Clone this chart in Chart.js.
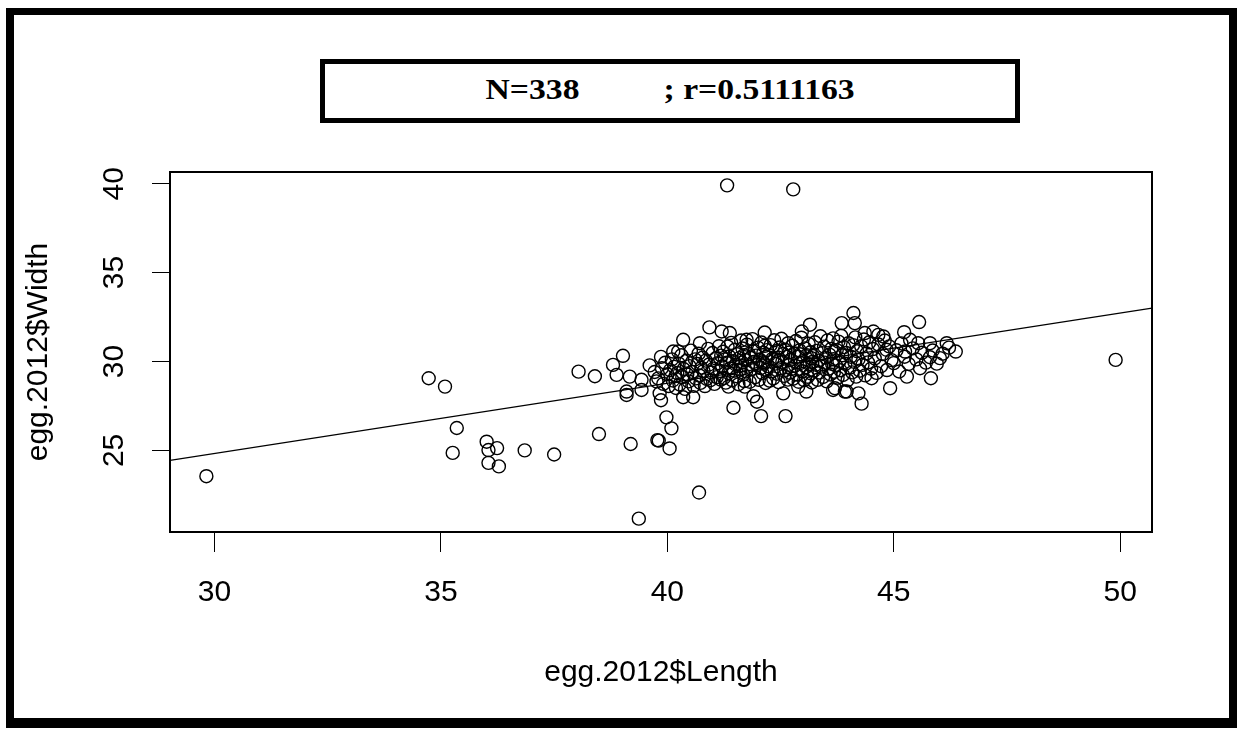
<!DOCTYPE html>
<html lang="en">
<head>
<meta charset="UTF-8">
<title>egg.2012 Length vs Width</title>
<script src="https://cdn.jsdelivr.net/npm/chart.js"></script>
<style>
  html, body { margin: 0; padding: 0; background: #fff; }
  #wrap { position: relative; width: 1239px; height: 729px; overflow: hidden; }
  #eggChart { position: absolute; left: 0; top: 0; }
  #frame {
    position: absolute; left: 6px; top: 8px; width: 1231px; height: 720px;
    box-sizing: border-box; border: 8px solid #000; border-top-width: 7px; border-bottom-width: 10px;
    pointer-events: none;
  }
  #statBox {
    position: absolute; left: 320px; top: 59px; width: 700px; height: 64px;
    box-sizing: border-box; border: 5px solid #000; background: #fff;
    text-align: center; line-height: 60px; overflow: visible;
  }
  #statBox span {
    display: inline-block; white-space: pre; transform: scaleX(1.16);
    font: bold 29px "Liberation Serif", "Times New Roman", serif; color: #000;
  }
</style>
</head>
<body>
<div id="wrap">
  <canvas id="eggChart" width="1239" height="729"></canvas>
  <div id="frame"></div>
  <div id="statBox"><span id="statText"></span></div>
</div>

<script>
// 2012 eggs, [length, width] in mm - the scattered ones away from the main cloud
const outerEggs = [
  [29.82,23.55],
  [34.73,29.06],[35.09,28.59],[35.35,26.26],[35.26,24.86],
  [36.01,25.49],[36.05,25.02],[36.24,25.13],[36.05,24.30],[36.28,24.10],
  [36.85,25.00],[37.50,24.77],
  [38.04,29.43],[38.40,29.17],[39.02,30.32],[38.80,29.81],[38.88,29.25],[39.17,29.15],
  [39.10,28.31],[39.10,28.12],[38.49,25.92],[39.19,25.36],[39.78,25.58],[39.81,25.55],
  [40.05,25.11],[39.98,26.86],[40.09,26.24],
  [40.70,22.63],[39.37,21.16],
  [41.46,27.40],[42.07,26.93],[41.98,27.74],[41.90,28.05],
  [40.93,31.92],[41.20,31.69],[41.38,31.60],[40.35,31.22],[40.72,31.03],[40.24,30.56],
  [39.61,29.78],[39.86,30.26],[39.83,28.21],[39.86,27.82],[40.35,27.99],[40.57,27.99],
  [39.43,28.40],[39.43,28.97],[40.13,30.56],
  [41.75,31.22],[42.15,31.63],[41.32,39.91],[42.78,39.68],
  [42.97,31.69],[43.15,32.07],[43.85,32.16],
  [42.61,26.93],[42.56,28.21],[43.07,28.31],[43.66,28.40],[43.92,28.31],[42.89,28.59],[41.71,28.59],[41.35,28.59],
  [44.11,32.73],[44.14,32.16],[45.56,32.22],[46.37,30.56],[46.02,30.19],[45.80,30.24],[45.80,31.03],
  [45.58,29.62],[45.82,29.06],[45.29,29.15],[44.92,28.50],[44.51,29.06],[44.29,27.63],[44.22,28.21],[43.96,28.31],[43.70,28.50],
  [44.55,31.69],[44.77,31.41],[45.23,31.65],[45.36,31.22],[45.54,31.03],[45.25,30.56],[44.84,30.66],[44.66,31.50],[44.36,31.60],
  [46.17,31.03],[49.90,30.09]
];

// the dense cloud between ~40 and ~46 mm length
const coreEggs = [
  [39.72,29.41],[39.80,29.05],[39.88,29.62],[39.91,28.74],[39.95,29.93],[40.00,29.28],[40.03,28.62],
  [40.06,29.51],[40.10,30.12],[40.12,28.93],[40.15,29.70],[40.18,29.18],[40.19,28.51],[39.76,28.88],
  [40.22,29.35],[40.25,29.88],[40.27,28.71],[40.31,30.35],[40.33,29.12],[40.36,29.58],[40.39,28.46],
  [40.42,30.04],[40.44,29.27],[40.47,28.88],[40.49,29.74],[40.52,30.61],[40.55,29.41],[40.58,28.63],
  [40.61,30.12],[40.63,29.05],[40.66,29.86],[40.69,30.44],
  [40.71,29.21],[40.73,28.80],[40.75,29.65],[40.78,30.22],[40.80,29.46],[40.83,28.62],[40.85,30.05],
  [40.87,29.02],[40.90,30.71],[40.92,29.83],[40.95,28.95],[40.97,29.38],[41.00,30.48],[41.02,29.60],
  [41.04,28.74],[41.07,30.18],[41.09,29.12],[41.11,29.91],[41.14,30.86],[41.16,29.47],[41.18,28.98],[41.19,30.33],
  [41.21,29.72],[41.23,30.55],[41.25,29.08],[41.27,30.12],[41.29,28.81],[41.31,29.93],[41.33,30.84],
  [41.35,29.36],[41.37,30.28],[41.39,29.61],[41.41,31.05],[41.43,28.95],[41.45,30.02],[41.47,29.48],
  [41.49,30.66],[41.51,29.83],[41.53,29.17],[41.55,30.41],[41.57,28.72],[41.59,30.19],[41.61,29.55],
  [41.63,31.18],[41.65,29.94],[41.66,30.73],[41.68,29.27],[41.69,30.36],[41.70,28.90],[41.62,29.76],
  [41.72,30.08],[41.74,29.44],[41.76,30.95],[41.78,29.71],[41.80,30.42],[41.82,28.86],[41.84,30.21],
  [41.86,29.58],[41.88,31.26],[41.90,29.98],[41.92,30.60],[41.94,29.12],[41.96,30.33],[41.98,29.80],
  [42.00,30.78],[42.02,28.97],[42.04,30.11],[42.06,29.63],[42.08,31.07],[42.10,29.35],[42.12,30.49],
  [42.14,29.89],[42.15,30.88],[42.17,28.79],[42.18,30.25],[42.19,29.51],[42.20,30.64],[42.11,29.96],
  [42.22,29.74],[42.24,30.37],[42.26,28.92],[42.28,30.92],[42.30,29.46],[42.32,30.15],[42.34,29.05],
  [42.36,31.20],[42.38,29.88],[42.40,30.58],[42.42,29.31],[42.44,30.03],[42.46,28.84],[42.48,30.79],
  [42.50,29.62],[42.52,31.28],[42.54,29.98],[42.56,30.43],[42.58,29.19],[42.60,30.66],[42.62,29.53],
  [42.64,30.26],[42.66,28.98],[42.67,31.03],[42.68,29.81],[42.69,30.51],[42.70,29.37],[42.45,30.22],
  [42.72,30.10],[42.74,29.58],[42.76,30.88],[42.78,29.03],[42.80,30.45],[42.82,29.77],[42.84,31.15],
  [42.86,29.26],[42.88,30.27],[42.90,28.86],[42.92,30.63],[42.94,29.92],[42.96,31.34],[42.98,29.45],
  [43.00,30.02],[43.02,28.95],[43.04,30.74],[43.06,29.68],[43.08,30.36],[43.10,29.14],[43.12,31.00],
  [43.14,29.85],[43.16,30.52],[43.17,29.33],[43.18,30.19],[43.19,28.82],[43.20,29.97],[42.93,30.41],
  [43.22,30.31],[43.24,29.49],[43.26,31.08],[43.28,29.82],[43.30,30.60],[43.32,28.97],[43.34,30.05],
  [43.36,29.38],[43.38,31.42],[43.40,29.71],[43.42,30.47],[43.44,29.13],[43.46,30.84],[43.48,29.94],
  [43.50,30.22],[43.52,28.88],[43.54,31.19],[43.56,29.60],[43.58,30.39],[43.60,29.27],[43.62,30.71],
  [43.64,29.86],[43.66,31.30],[43.67,30.13],[43.68,29.42],[43.69,30.56],
  [43.72,29.78],[43.74,30.64],[43.76,29.09],[43.78,31.12],[43.80,30.02],[43.82,29.51],[43.84,31.45],
  [43.86,30.35],[43.88,29.24],[43.90,30.81],[43.93,29.87],[43.95,30.48],[43.98,28.95],[44.00,31.03],
  [44.03,29.66],[44.05,30.27],[44.08,29.39],[44.10,30.92],[44.13,29.98],[44.15,31.36],[44.17,29.15],[44.19,30.58],
  [44.22,30.12],[44.25,29.48],[44.28,30.86],[44.31,29.81],[44.34,31.24],[44.37,29.22],[44.40,30.45],
  [44.43,29.95],[44.46,31.08],[44.50,29.60],[44.54,30.70],[44.58,30.18],[44.62,29.36],[44.66,30.96],
  [44.72,29.74],[44.76,30.42],[44.80,31.18],[44.85,29.52],[44.90,30.85],[44.95,30.08],[45.00,29.91],
  [45.06,30.63],[45.12,29.44],[45.17,31.02],
  [45.24,30.27],[45.33,29.86],[45.42,30.74],[45.50,30.12],[45.62,30.49],[45.71,29.94],
  [45.86,30.62],[45.95,29.88],[46.08,30.44],[46.22,30.78]
];

const xTicks = [30, 35, 40, 45, 50];
const yTicks = [25, 30, 35, 40];

// lm(Width ~ Length) and cor() for the same eggs
const fit = { intercept: 12.98, slope: 0.395 };
const corr = 0.5111163;

const eggs = outerEggs.concat(coreEggs);

document.getElementById('statText').textContent =
  'N=' + eggs.length + '          ; r=' + corr;

// base R pads the data range by 4% on each side
function padRange(vals) {
  const lo = Math.min(...vals), hi = Math.max(...vals);
  const pad = (hi - lo) * 0.04;
  return [lo - pad, hi + pad];
}
const [xMin, xMax] = padRange(eggs.map(e => e[0]));
const [yMin, yMax] = padRange(eggs.map(e => e[1]));

const axisFont = { family: "'Liberation Sans', Arial, sans-serif", size: 30 };

// plot box around the whole region, like box() in R
const boxPlugin = {
  id: 'plotBox',
  afterDatasetsDraw(chart) {
    const { ctx, chartArea: a } = chart;
    ctx.save();
    ctx.strokeStyle = '#000';
    ctx.lineWidth = 2;
    ctx.strokeRect(a.left, a.top, a.right - a.left, a.bottom - a.top);
    ctx.restore();
  }
};

const ctx = document.getElementById('eggChart').getContext('2d');
new Chart(ctx, {
  type: 'scatter',
  data: {
    datasets: [{
      data: eggs.map(([x, y]) => ({ x, y })),
      pointStyle: 'circle',
      pointRadius: 6.5,
      pointBorderWidth: 1.4,
      pointBorderColor: '#000',
      pointBackgroundColor: 'rgba(0,0,0,0)'
    }, {
      type: 'line',
      data: [
        { x: xMin, y: fit.intercept + fit.slope * xMin },
        { x: xMax, y: fit.intercept + fit.slope * xMax }
      ],
      borderColor: '#000',
      borderWidth: 1.3,
      pointRadius: 0,
      fill: false
    }]
  },
  options: {
    responsive: false,
    animation: false,
    devicePixelRatio: 1,
    layout: { padding: { top: 172, right: 87, left: 0, bottom: 0 } },
    plugins: { legend: { display: false }, tooltip: { enabled: false } },
    scales: {
      x: {
        type: 'linear',
        min: xMin,
        max: xMax,
        afterBuildTicks: s => { s.ticks = xTicks.map(v => ({ value: v })); },
        afterFit: s => { s.height = 197; },
        grid: { drawOnChartArea: false, drawTicks: true, tickLength: 20, color: '#000', lineWidth: 1 },
        border: { display: false },
        ticks: { color: '#000', font: axisFont, padding: 23, minRotation: 0, maxRotation: 0 },
        title: { display: true, text: 'egg.2012$Length', color: '#000', font: axisFont, padding: { top: 0, bottom: 38 } }
      },
      y: {
        type: 'linear',
        min: yMin,
        max: yMax,
        afterBuildTicks: s => { s.ticks = yTicks.map(v => ({ value: v })); },
        afterFit: s => { s.width = 170; },
        grid: { drawOnChartArea: false, drawTicks: true, tickLength: 18, color: '#000', lineWidth: 1 },
        border: { display: false },
        ticks: { color: '#000', font: axisFont, padding: 21, minRotation: 90, maxRotation: 90, crossAlign: 'center' },
        title: { display: true, text: 'egg.2012$Width', color: '#000', font: axisFont, padding: { top: 21, bottom: 0 } }
      }
    }
  },
  plugins: [boxPlugin]
});
</script>
</body>
</html>
